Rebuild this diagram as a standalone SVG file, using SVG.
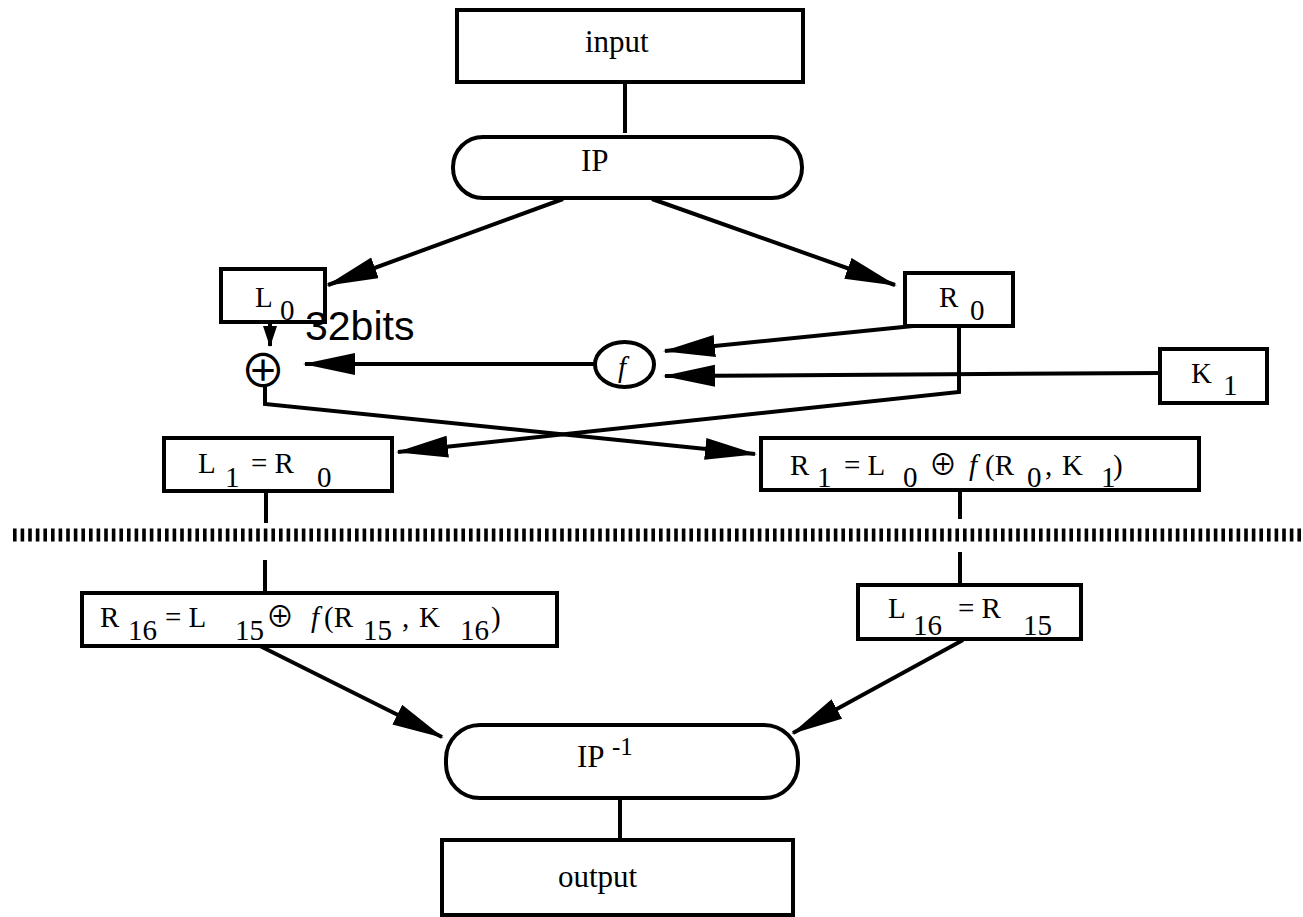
<svg xmlns="http://www.w3.org/2000/svg" width="1303" height="917" viewBox="0 0 1303 917">
<style>
.box{fill:#fff;stroke:#000;stroke-width:4}
.ln{fill:none;stroke:#000;stroke-width:4}
.t{font-family:"Liberation Serif","Times New Roman",serif;font-size:29px;fill:#000}
.big{font-size:31px}
.sup{font-size:25px}
.i{font-style:italic}
.sym{font-family:"Noto Sans CJK JP","DejaVu Sans",sans-serif;font-size:28px;fill:#000}
.xor{font-size:46px}
</style>
<defs>
<marker id="ah" markerUnits="userSpaceOnUse" markerWidth="54" markerHeight="24" refX="50" refY="11" orient="auto">
<path d="M0,0 L52,11 L0,22 z" fill="#000"/>
</marker>
<marker id="ahs" markerUnits="userSpaceOnUse" markerWidth="24" markerHeight="16" refX="20" refY="7" orient="auto">
<path d="M0,0 L21,7 L0,14 z" fill="#000"/>
</marker>
</defs>

<g id="connectors">
<line class="ln" x1="625" y1="82" x2="625" y2="133"/>
<line class="ln" x1="563" y1="199" x2="328" y2="285" marker-end="url(#ah)"/>
<line class="ln" x1="652" y1="199" x2="895" y2="285" marker-end="url(#ah)"/>
<line class="ln" x1="270" y1="322" x2="270" y2="346" marker-end="url(#ahs)"/>
<line class="ln" x1="933" y1="324" x2="665" y2="351" marker-end="url(#ah)"/>
<line class="ln" x1="1160" y1="373" x2="665" y2="376" marker-end="url(#ah)"/>
<line class="ln" x1="595" y1="364" x2="305" y2="364" marker-end="url(#ah)"/>
<polyline class="ln" points="265,385 265,404 755,454" marker-end="url(#ah)"/>
<polyline class="ln" points="959,327 959,392 398,452" marker-end="url(#ah)"/>
<line class="ln" x1="266" y1="491" x2="266" y2="523"/>
<line class="ln" x1="960" y1="490" x2="960" y2="519"/>
<line x1="13" y1="535" x2="1303" y2="535" stroke="#000" stroke-width="13" stroke-dasharray="3.6 4"/>
<line class="ln" x1="265" y1="560" x2="265" y2="593"/>
<line class="ln" x1="960" y1="552" x2="960" y2="585"/>
<line class="ln" x1="258" y1="645" x2="442" y2="737" marker-end="url(#ah)"/>
<line class="ln" x1="963" y1="640" x2="793" y2="733" marker-end="url(#ah)"/>
<line class="ln" x1="620" y1="798" x2="620" y2="840"/>
</g>

<g id="input">
<rect class="box" x="457" y="10" width="346" height="72"/>
<text class="t big" x="585" y="52">input</text>
</g>

<g id="IP">
<rect class="box" x="453" y="137" width="349" height="61" rx="30"/>
<text class="t big" x="581" y="171">IP</text>
</g>

<g id="L0">
<rect class="box" x="221" y="269" width="104" height="53"/>
<text class="t" x="255" y="307">L</text>
<text class="t" x="280" y="320">0</text>
</g>

<g id="R0">
<rect class="box" x="905" y="273" width="108" height="53"/>
<text class="t" x="939" y="307">R</text>
<text class="t" x="970" y="320">0</text>
</g>

<g id="label32">
<text x="305" y="340" font-family="Liberation Sans, Arial, sans-serif" font-size="41" fill="#000">32bits</text>
</g>

<g id="xor">
<text class="sym xor" x="263" y="387" text-anchor="middle">⊕</text>
</g>

<g id="f">
<ellipse cx="624.5" cy="364.5" rx="29.5" ry="22.5" fill="#fff" stroke="#000" stroke-width="4"/>
<text class="t i" x="622" y="377" text-anchor="middle">f</text>
</g>

<g id="K1">
<rect class="box" x="1160" y="349" width="107" height="54"/>
<text class="t" x="1191" y="383">K</text>
<text class="t" x="1223" y="395">1</text>
</g>

<g id="L1">
<rect class="box" x="164" y="438" width="228" height="53"/>
<text class="t" x="198" y="473">L</text>
<text class="t" x="225" y="487">1</text>
<text class="t" x="251" y="473">= R</text>
<text class="t" x="317" y="487">0</text>
</g>

<g id="R1">
<rect class="box" x="761" y="438" width="438" height="52"/>
<text class="t" x="790" y="475">R</text>
<text class="t" x="817" y="487">1</text>
<text class="t" x="844" y="475">= L</text>
<text class="t" x="903" y="487">0</text>
<text class="sym" x="929" y="475">⊕</text>
<text class="t i" x="969" y="475">f</text>
<text class="t" x="985" y="475">(R</text>
<text class="t" x="1027" y="487">0</text>
<text class="t" x="1045" y="475">,</text>
<text class="t" x="1062" y="475">K</text>
<text class="t" x="1101" y="487">1</text>
<text class="t" x="1113" y="475">)</text>
</g>

<g id="R16">
<rect class="box" x="82" y="593" width="475" height="53"/>
<text class="t" x="100" y="627">R</text>
<text class="t" x="128" y="640">16</text>
<text class="t" x="165" y="627">= L</text>
<text class="t" x="235" y="640">15</text>
<text class="sym" x="266" y="627">⊕</text>
<text class="t i" x="311" y="627">f</text>
<text class="t" x="324" y="627">(R</text>
<text class="t" x="363" y="640">15</text>
<text class="t" x="402" y="627">,</text>
<text class="t" x="419" y="627">K</text>
<text class="t" x="460" y="640">16</text>
<text class="t" x="491" y="627">)</text>
</g>

<g id="L16">
<rect class="box" x="858" y="585" width="223" height="54"/>
<text class="t" x="888" y="618">L</text>
<text class="t" x="913" y="635">16</text>
<text class="t" x="958" y="618">= R</text>
<text class="t" x="1023" y="635">15</text>
</g>

<g id="IPinv">
<rect class="box" x="446" y="725" width="352" height="73" rx="34"/>
<text class="t big" x="577" y="767">IP</text>
<text class="t sup" x="612" y="755">-1</text>
</g>

<g id="output">
<rect class="box" x="442" y="840" width="351" height="75"/>
<text class="t big" x="558" y="887">output</text>
</g>
</svg>
